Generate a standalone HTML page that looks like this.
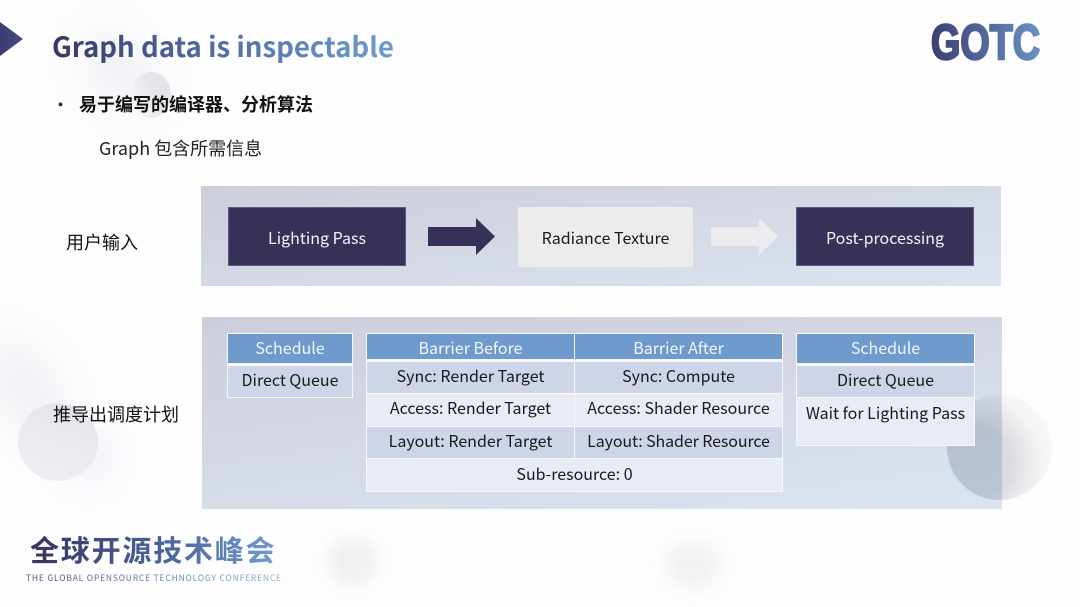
<!DOCTYPE html>
<html lang="zh-CN">
<head>
<meta charset="utf-8">
<title>Graph data is inspectable</title>
<style>
html,body{margin:0;padding:0;background:#fff}
#s{position:relative;width:1080px;height:607px;overflow:hidden;background:#fdfdfe;font-family:"Noto Sans CJK SC","Liberation Sans",sans-serif;color:#1a1a1a}
#s div{position:absolute;box-sizing:border-box}
.t{white-space:nowrap;line-height:1;text-align:center}
.c{display:flex;align-items:center;justify-content:center;white-space:nowrap;font-size:16px;line-height:1}
.h{background:#6f9acd;color:#f2f6fb}
.a{background:#cfd5e8}
.b{background:#e9ecf5}
.w{background:#f6f8fb}
.n{background:#373158;color:#f2f2f6;border:1px solid #5a5a86}
.band{background:linear-gradient(172deg,#cdcedb 0%,#d4d9e5 50%,#dae4f1 100%)}
.blob{border-radius:50%}
</style>
</head>
<body>
<div id="s">
<!-- soft background -->
<div class="blob" style="left:95px;top:25px;width:50px;height:95px;background:#e4e6ec;filter:blur(20px);transform:rotate(-40deg);opacity:.6"></div>
<div class="blob" style="left:131px;top:72px;width:40px;height:46px;background:linear-gradient(70deg,rgba(240,241,245,0) 5%,#e4e6ea 60%,#dfe1e6 100%)"></div>
<div class="blob" style="left:0;top:335px;width:55px;height:110px;background:#e8eaef;filter:blur(20px);transform:rotate(-30deg);opacity:.7"></div>
<div class="blob" style="left:60px;top:425px;width:55px;height:60px;background:#eceff7;filter:blur(14px);opacity:.7"></div>
<div class="blob" style="left:18px;top:403px;width:80px;height:78px;background:linear-gradient(20deg,#eff0f3 0%,#e8eaed 55%,#e0e2e6 100%)"></div>
<div class="blob" style="left:328px;top:538px;width:50px;height:48px;background:#f0f0f1;filter:blur(7px)"></div>
<div class="blob" style="left:666px;top:542px;width:54px;height:46px;background:#f1f1f2;filter:blur(8px)"></div>

<!-- header -->
<svg style="position:absolute;left:0;top:22px" width="24" height="34"><defs><linearGradient id="g1" x1="0" x2="1"><stop offset="0" stop-color="#3b3d70"/><stop offset="1" stop-color="#454a80"/></linearGradient></defs><polygon points="0,0 23,17 0,34" fill="url(#g1)"/></svg>
<div class="t" style="left:52px;top:32px;font-size:27.6px;font-weight:700;text-align:left;color:transparent;background:linear-gradient(90deg,#38365f 0%,#4a6296 35%,#6f9bd0 100%);-webkit-background-clip:text;background-clip:text;padding-bottom:6px">Graph data is inspectable</div>

<!-- GOTC logo -->
<svg style="position:absolute;left:925px;top:15px" width="125" height="55">
<defs><linearGradient id="g2" x1="0" x2="1"><stop offset="0" stop-color="#3b3f73"/><stop offset="1" stop-color="#6a90c4"/></linearGradient></defs>
<text x="6" y="44" font-family="Liberation Sans" font-weight="700" font-size="49" textLength="109" lengthAdjust="spacingAndGlyphs" fill="url(#g2)" stroke="url(#g2)" stroke-width="2.4">GOTC</text>
</svg>

<!-- bullets -->
<div class="t" style="left:53px;top:97px;font-size:15px;font-weight:700;color:#222">•</div>
<div class="t" style="left:79px;top:95px;font-size:18px;font-weight:700;color:#111;text-align:left">易于编写的编译器、分析算法</div>
<div class="t" style="left:99px;top:139px;font-size:18px;color:#222;text-align:left">Graph 包含所需信息</div>

<!-- labels -->
<div class="t" style="left:66px;top:233px;font-size:18px;color:#111;text-align:left">用户输入</div>
<div class="t" style="left:53px;top:405px;font-size:18px;color:#111;text-align:left">推导出调度计划</div>

<!-- band 1 -->
<div class="band" style="left:201px;top:186px;width:800px;height:100px"></div>
<div class="c n" style="left:228px;top:207px;width:178px;height:59px">Lighting Pass</div>
<svg style="position:absolute;left:428px;top:218px" width="68" height="38"><polygon points="0,9 48,9 48,0 67,18.5 48,37 48,28 0,28" fill="#373158"/></svg>
<div class="c" style="left:518px;top:207px;width:175px;height:60px;background:#ececee;color:#1a1a1a">Radiance Texture</div>
<svg style="position:absolute;left:711px;top:218px" width="68" height="38"><polygon points="0,9 48,9 48,0 67,18.5 48,37 48,28 0,28" fill="#ececee"/></svg>
<div class="c n" style="left:796px;top:207px;width:178px;height:59px">Post-processing</div>

<!-- band 2 -->
<div class="band" style="left:202px;top:317px;width:800px;height:192px"></div>
<div class="blob" style="left:947px;top:395px;width:105px;height:105px;mix-blend-mode:multiply;background:radial-gradient(circle at 25% 65%,#d8dde4 0%,#dcdde0 35%,#f5f5f6 64%,#fcfcfd 85%)"></div>

<!-- left schedule -->
<div class="w" style="left:227px;top:333px;width:126px;height:65px"></div>
<div class="c h" style="left:228px;top:334px;width:124px;height:29px;padding-bottom:4px">Schedule</div>
<div class="c a" style="left:228px;top:366px;width:124px;height:31px;padding-bottom:6px">Direct Queue</div>

<!-- barrier table -->
<div class="w" style="left:366px;top:333px;width:417px;height:159px"></div>
<div class="c h" style="left:367px;top:334px;width:207px;height:25px">Barrier Before</div>
<div class="c h" style="left:575px;top:334px;width:207px;height:25px">Barrier After</div>
<div class="c a" style="left:367px;top:362px;width:207px;height:31px;padding-bottom:6px">Sync: Render Target</div>
<div class="c a" style="left:575px;top:362px;width:207px;height:31px;padding-bottom:6px">Sync: Compute</div>
<div class="c b" style="left:367px;top:394px;width:207px;height:32px;padding-bottom:6px">Access: Render Target</div>
<div class="c b" style="left:575px;top:394px;width:207px;height:32px;padding-bottom:6px">Access: Shader Resource</div>
<div class="c a" style="left:367px;top:427px;width:207px;height:31px;padding-bottom:5px">Layout: Render Target</div>
<div class="c a" style="left:575px;top:427px;width:207px;height:31px;padding-bottom:5px;letter-spacing:-.1px">Layout: Shader Resource</div>
<div class="c b" style="left:367px;top:459px;width:415px;height:32px;padding-bottom:4px">Sub-resource: 0</div>

<!-- right schedule -->
<div class="w" style="left:796px;top:333px;width:179px;height:113px"></div>
<div class="c h" style="left:797px;top:334px;width:177px;height:29px;padding-bottom:4px">Schedule</div>
<div class="c a" style="left:797px;top:366px;width:177px;height:31px;padding-bottom:6px">Direct Queue</div>
<div class="c b" style="left:797px;top:398px;width:177px;height:47px;padding-bottom:20px">Wait for Lighting Pass</div>

<!-- footer -->
<div class="t" style="left:30px;top:535px;font-size:29px;font-weight:700;letter-spacing:1.8px;text-align:left;color:transparent;background:linear-gradient(90deg,#36345e 0%,#4d6a9e 60%,#6f9bd0 100%);-webkit-background-clip:text;background-clip:text;padding-bottom:4px">全球开源技术峰会</div>
<div class="t" style="left:26px;top:574px;font-size:8.5px;letter-spacing:.8px;text-align:left;color:transparent;background:linear-gradient(90deg,#4a4f7c 0%,#6f8fbc 70%,#8fb0d8 100%);-webkit-background-clip:text;background-clip:text;padding-bottom:2px">THE GLOBAL OPENSOURCE TECHNOLOGY CONFERENCE</div>
</div>
</body>
</html>
